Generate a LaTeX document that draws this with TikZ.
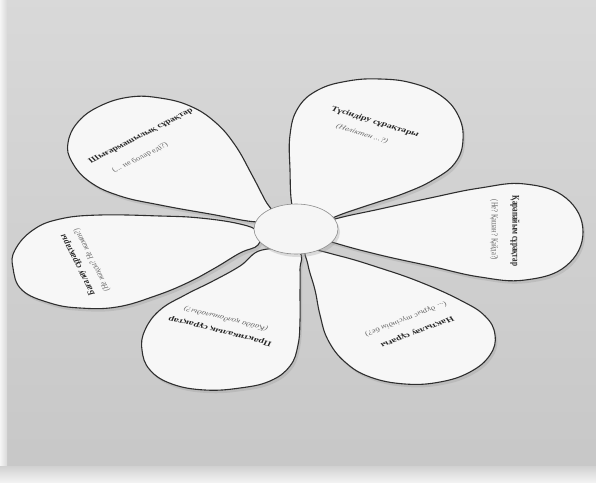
\documentclass[tikz,border=0pt]{standalone}
\usepackage{fontspec}
\setmainfont{Liberation Serif}
\usetikzlibrary{shapes.geometric}
\begin{document}
\begin{tikzpicture}[x=1pt,y=-1pt,
  petal/.style={draw=black!82, line width=1.1pt, fill=black!3, line join=round},
  pshadow/.style={fill=black!45, opacity=0.25},
  ttl/.style={font=\fontsize{10}{11}\selectfont\bfseries, text=black!85, inner sep=0pt, transform shape},
  sub/.style={font=\fontsize{9}{10}\selectfont, text=black!60, inner sep=0pt, transform shape},
  subi/.style={sub, font=\fontsize{9}{10}\selectfont\itshape}]
\useasboundingbox (0,0) rectangle (596,482);
% background (photo)
\fill[top color=black!15, bottom color=black!22] (0,0) rectangle (596,482);
\fill[left color=black!4, right color=black!15] (0,0) rectangle (7,482);
\fill[top color=black!18, bottom color=black!5] (0,466) rectangle (596,482);

% petal shadows
\begin{scope}[shift={(2,3)}]
\fill[pshadow] plot[smooth cycle, tension=0.7] coordinates {(258,222) (210,214) (160,205) (120,196) (90,182) (72,162) (68,143) (78,122) (100,106) (130,97) (160,98) (190,106) (215,122) (235,145) (252,175) (265,200) (274,216)};
\fill[pshadow] plot[smooth cycle, tension=0.7] coordinates {(300,222) (292,205) (290,170) (290,135) (298,108) (318,90) (348,81) (380,79) (412,83) (440,95) (458,115) (463,140) (455,163) (433,180) (405,193) (375,203) (345,213) (320,222)};
\fill[pshadow] plot[smooth cycle, tension=0.7] coordinates {(300,231) (335,219) (380,209) (430,198) (480,188) (525,184) (566,198) (583,232) (566,266) (525,280) (480,277) (430,266) (380,255) (335,243)};
\fill[pshadow] plot[smooth cycle, tension=0.7] coordinates {(308,250) (340,256) (380,268) (420,282) (460,300) (485,316) (495,335) (490,355) (470,372) (440,382) (405,384) (370,377) (345,362) (328,340) (320,315) (315,290) (308,265)};
\fill[pshadow] plot[smooth cycle, tension=0.7] coordinates {(262,250) (240,266) (213,281) (185,295) (160,310) (145,330) (142,350) (150,370) (172,384) (205,390) (240,388) (270,381) (290,366) (298,345) (300,320) (300,295) (300,270) (298,252)};
\fill[pshadow] plot[smooth cycle, tension=0.7] coordinates {(258,232) (240,224) (200,218) (160,216) (100,215) (60,219) (33,230) (15,250) (13,268) (22,290) (50,303) (80,308) (117,307) (155,296) (187,283) (215,268) (240,253) (258,245)};
\end{scope}

% petals
\draw[petal] plot[smooth cycle, tension=0.7] coordinates {(258,222) (210,214) (160,205) (120,196) (90,182) (72,162) (68,143) (78,122) (100,106) (130,97) (160,98) (190,106) (215,122) (235,145) (252,175) (265,200) (274,216)};
\draw[petal] plot[smooth cycle, tension=0.7] coordinates {(300,222) (292,205) (290,170) (290,135) (298,108) (318,90) (348,81) (380,79) (412,83) (440,95) (458,115) (463,140) (455,163) (433,180) (405,193) (375,203) (345,213) (320,222)};
\draw[petal] plot[smooth cycle, tension=0.7] coordinates {(300,231) (335,219) (380,209) (430,198) (480,188) (525,184) (566,198) (583,232) (566,266) (525,280) (480,277) (430,266) (380,255) (335,243)};
\draw[petal] plot[smooth cycle, tension=0.7] coordinates {(308,250) (340,256) (380,268) (420,282) (460,300) (485,316) (495,335) (490,355) (470,372) (440,382) (405,384) (370,377) (345,362) (328,340) (320,315) (315,290) (308,265)};
\draw[petal] plot[smooth cycle, tension=0.7] coordinates {(262,250) (240,266) (213,281) (185,295) (160,310) (145,330) (142,350) (150,370) (172,384) (205,390) (240,388) (270,381) (290,366) (298,345) (300,320) (300,295) (300,270) (298,252)};
\draw[petal] plot[smooth cycle, tension=0.7] coordinates {(258,232) (240,224) (200,218) (160,216) (100,215) (60,219) (33,230) (15,250) (13,268) (22,290) (50,303) (80,308) (117,307) (155,296) (187,283) (215,268) (240,253) (258,245)};

% centre
\fill[black!40, opacity=0.3] (298,232) ellipse [x radius=42, y radius=25];
\node[ellipse, draw=black!45, line width=0.6pt, fill=black!4, minimum width=84pt, minimum height=50pt, inner sep=0pt] (core) at (296,229) {};

% texts (perspective squash)
\begin{scope}[yscale=0.72]
\node[ttl, rotate=35] (t1) at (141,136/0.72) {Шығармашылық сұрақтар};
\node[sub, rotate=35] (s1) at (140,158/0.72) {(... не болар еді?)};
\node[ttl, rotate=-23] (t2) at (375,122/0.72) {Түсіндіру сұрақтары};
\node[subi, rotate=-23] (s2) at (362,134/0.72) {(Неліктен ...?)};
\node[ttl, rotate=-90] (t3) at (515,231/0.72) {Қарапайым сұрақтар};
\node[sub, rotate=-90] (s3) at (494,230/0.72) {(Не? Қашан? Қайда?)};
\node[ttl, rotate=208] (t4) at (417,332/0.72) {Нақтылау сұрағы};
\node[subi, rotate=208] (s4) at (406,319/0.72) {(... дұрыс түсіндім бе?)};
\node[ttl, rotate=161] (t5) at (220,331/0.72) {Практикалық сұрақтар};
\node[subi, rotate=161] (s5) at (226,319/0.72) {(Қайда қолданылады?)};
\node[ttl, rotate=110] (t6) at (78,265/0.72) {Бағалау сұрақтары};
\node[sub, rotate=110] (s6) at (92,260/0.72) {(Не жақсы? Не жаман?)};
\end{scope}
\end{tikzpicture}
\end{document}
